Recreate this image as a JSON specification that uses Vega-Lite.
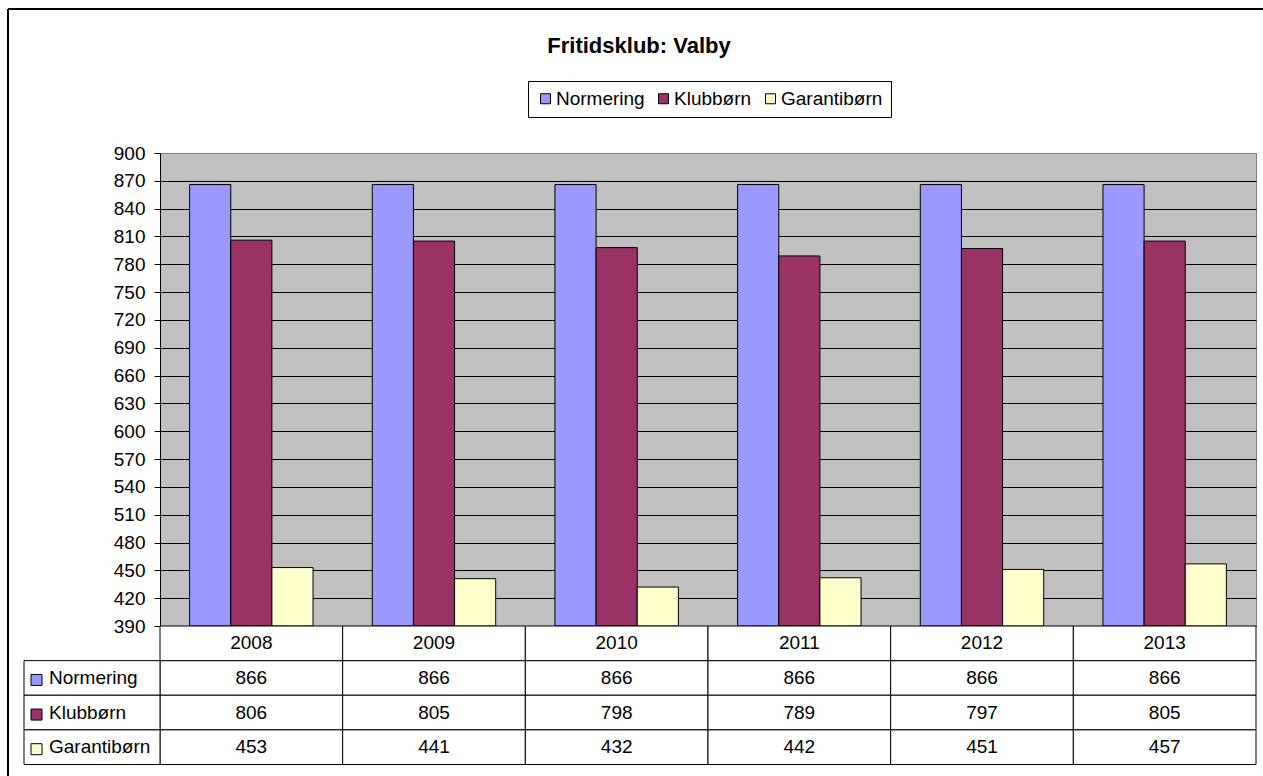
{
  "$schema": "https://vega.github.io/schema/vega-lite/v6.json",
  "width": 1096,
  "height": 473,
  "autosize": {"type": "none"},
  "padding": {"left": 160, "top": 153, "right": 7, "bottom": 150},
  "background": "white",
  "config": {
    "font": "Liberation Sans",
    "view": {"fill": "#C0C0C0", "stroke": "#808080", "strokeWidth": 1},
    "text": {"font": "Liberation Sans", "fontSize": 19, "color": "black"}
  },
  "title": {
    "text": "Fritidsklub: Valby",
    "font": "Liberation Sans",
    "fontSize": 22,
    "fontWeight": "bold",
    "color": "black",
    "anchor": "middle",
    "frame": "group",
    "dx": -69,
    "offset": -50
  },
  "data": {
    "values": [
      {"year": "2008", "series": "Normering", "value": 866},
      {"year": "2008", "series": "Klubbørn", "value": 806},
      {"year": "2008", "series": "Garantibørn", "value": 453},
      {"year": "2009", "series": "Normering", "value": 866},
      {"year": "2009", "series": "Klubbørn", "value": 805},
      {"year": "2009", "series": "Garantibørn", "value": 441},
      {"year": "2010", "series": "Normering", "value": 866},
      {"year": "2010", "series": "Klubbørn", "value": 798},
      {"year": "2010", "series": "Garantibørn", "value": 432},
      {"year": "2011", "series": "Normering", "value": 866},
      {"year": "2011", "series": "Klubbørn", "value": 789},
      {"year": "2011", "series": "Garantibørn", "value": 442},
      {"year": "2012", "series": "Normering", "value": 866},
      {"year": "2012", "series": "Klubbørn", "value": 797},
      {"year": "2012", "series": "Garantibørn", "value": 451},
      {"year": "2013", "series": "Normering", "value": 866},
      {"year": "2013", "series": "Klubbørn", "value": 805},
      {"year": "2013", "series": "Garantibørn", "value": 457}
    ]
  },
  "layer": [
    {
      "mark": {"type": "bar", "stroke": "black", "strokeWidth": 1},
      "encoding": {
        "x": {"field": "year", "type": "nominal", "scale": {"domain": ["2008", "2009", "2010", "2011", "2012", "2013"], "paddingInner": 0, "paddingOuter": 0}, "axis": null},
        "xOffset": {"field": "series", "type": "nominal", "scale": {"domain": ["Normering", "Klubbørn", "Garantibørn"], "paddingInner": 0, "paddingOuter": 0.72}},
        "y": {
          "field": "value",
          "type": "quantitative",
          "scale": {"domain": [390, 900], "zero": false, "nice": false},
          "axis": {
            "values": [390, 420, 450, 480, 510, 540, 570, 600, 630, 660, 690, 720, 750, 780, 810, 840, 870, 900],
            "title": null,
            "grid": true,
            "gridColor": {"condition": {"test": "datum.value === 900", "value": "#808080"}, "value": "black"},
            "gridWidth": 1,
            "domainColor": "black",
            "domainWidth": 1,
            "tickColor": "black",
            "tickSize": 6,
            "labelFont": "Liberation Sans",
            "labelFontSize": 19,
            "labelColor": "black",
            "labelPadding": 9,
            "labelOverlap": false,
            "labelFlush": false
          }
        },
        "y2": {"datum": 390},
        "color": {
          "field": "series",
          "type": "nominal",
          "scale": {"domain": ["Normering", "Klubbørn", "Garantibørn"], "range": ["#9999FF", "#993366", "#FFFFCC"]},
          "legend": {
            "orient": "none",
            "legendX": 368,
            "legendY": -72,
            "direction": "horizontal",
            "title": null,
            "symbolType": "square",
            "symbolSize": 100,
            "symbolStrokeColor": "black",
            "symbolStrokeWidth": 1,
            "labelFont": "Liberation Sans",
            "labelFontSize": 19,
            "labelColor": "black",
            "labelOffset": 1,
            "columnPadding": 9,
            "strokeColor": "black",
            "fillColor": "white",
            "padding": 8
          }
        }
      }
    },
    {
      "mark": {"type": "rule", "color": "black", "strokeWidth": 1.5, "xOffset": -243.3, "x2Offset": 110},
      "encoding": {
        "x": {"datum": "2008", "type": "nominal", "scale": {"type": "band", "domain": ["2008", "2009", "2010", "2011", "2012", "2013"], "paddingInner": 0, "paddingOuter": 0}, "axis": null},
        "x2": {"datum": "2013"},
        "y": {"datum": 1055.3, "type": "quantitative", "scale": {"domain": [390, 900], "zero": false, "nice": false}, "axis": null}
      }
    },
    {
      "mark": {"type": "rule", "color": "black", "strokeWidth": 1.5, "xOffset": -243.3},
      "encoding": {
        "x": {"datum": "2008", "type": "nominal", "scale": {"type": "band", "domain": ["2008", "2009", "2010", "2011", "2012", "2013"], "paddingInner": 0, "paddingOuter": 0}, "axis": null},
        "y": {"datum": 1055.3, "type": "quantitative", "scale": {"domain": [390, 900], "zero": false, "nice": false}, "axis": null},
        "y2": {"datum": 200}
      }
    },
    {
      "mark": {"type": "rect", "fill": "white", "stroke": "black", "strokeWidth": 1},
      "encoding": {
        "x": {"field": "year", "type": "nominal", "scale": {"type": "band", "domain": ["2008", "2009", "2010", "2011", "2012", "2013"], "paddingInner": 0, "paddingOuter": 0}, "axis": null},
        "y": {"field": "series", "type": "nominal", "scale": {"type": "band", "domain": ["hdr", "Normering", "Klubbørn", "Garantibørn"], "range": [473, 611.5], "paddingInner": 0, "paddingOuter": 0}, "axis": null}
      }
    },
    {
      "transform": [{"filter": "datum.series === 'Normering'"}],
      "mark": {"type": "rect", "fill": "white", "stroke": "black", "strokeWidth": 1},
      "encoding": {
        "x": {"field": "year", "type": "nominal", "scale": {"type": "band", "domain": ["2008", "2009", "2010", "2011", "2012", "2013"], "paddingInner": 0, "paddingOuter": 0}, "axis": null},
        "y": {"datum": "hdr", "type": "nominal", "scale": {"type": "band", "domain": ["hdr", "Normering", "Klubbørn", "Garantibørn"], "range": [473, 611.5], "paddingInner": 0, "paddingOuter": 0}, "axis": null}
      }
    },
    {
      "transform": [{"filter": "datum.series === 'Normering'"}],
      "mark": {"type": "text", "align": "center", "baseline": "middle", "fontSize": 19, "font": "Liberation Sans", "color": "black"},
      "encoding": {
        "x": {"field": "year", "type": "nominal", "scale": {"type": "band", "domain": ["2008", "2009", "2010", "2011", "2012", "2013"], "paddingInner": 0, "paddingOuter": 0}, "axis": null},
        "y": {"datum": "hdr", "type": "nominal", "scale": {"type": "band", "domain": ["hdr", "Normering", "Klubbørn", "Garantibørn"], "range": [473, 611.5], "paddingInner": 0, "paddingOuter": 0}, "axis": null},
        "text": {"field": "year"}
      }
    },
    {
      "mark": {"type": "text", "align": "center", "baseline": "middle", "fontSize": 19, "font": "Liberation Sans", "color": "black"},
      "encoding": {
        "x": {"field": "year", "type": "nominal", "scale": {"type": "band", "domain": ["2008", "2009", "2010", "2011", "2012", "2013"], "paddingInner": 0, "paddingOuter": 0}, "axis": null},
        "y": {"field": "series", "type": "nominal", "scale": {"type": "band", "domain": ["hdr", "Normering", "Klubbørn", "Garantibørn"], "range": [473, 611.5], "paddingInner": 0, "paddingOuter": 0}, "axis": null},
        "text": {"field": "value", "type": "quantitative"}
      }
    },
    {
      "transform": [{"filter": "datum.year === '2008'"}],
      "mark": {"type": "rect", "fill": "white", "stroke": "black", "strokeWidth": 1},
      "encoding": {
        "x": {"datum": "lbl", "type": "nominal", "scale": {"type": "band", "domain": ["lbl"], "range": [-136, 0], "paddingInner": 0, "paddingOuter": 0}, "axis": null},
        "y": {"field": "series", "type": "nominal", "scale": {"type": "band", "domain": ["hdr", "Normering", "Klubbørn", "Garantibørn"], "range": [473, 611.5], "paddingInner": 0, "paddingOuter": 0}, "axis": null}
      }
    },
    {
      "transform": [{"filter": "datum.year === '2008'"}],
      "mark": {"type": "point", "shape": "square", "filled": true, "size": 121, "stroke": "black", "strokeWidth": 1, "opacity": 1, "xOffset": -55.5, "yOffset": 2},
      "encoding": {
        "x": {"datum": "lbl", "type": "nominal", "scale": {"type": "band", "domain": ["lbl"], "range": [-136, 0], "paddingInner": 0, "paddingOuter": 0}, "axis": null},
        "y": {"field": "series", "type": "nominal", "scale": {"type": "band", "domain": ["hdr", "Normering", "Klubbørn", "Garantibørn"], "range": [473, 611.5], "paddingInner": 0, "paddingOuter": 0}, "axis": null},
        "fill": {"field": "series", "type": "nominal", "scale": {"domain": ["Normering", "Klubbørn", "Garantibørn"], "range": ["#9999FF", "#993366", "#FFFFCC"]}, "legend": null}
      }
    },
    {
      "transform": [{"filter": "datum.year === '2008'"}],
      "mark": {"type": "text", "align": "left", "baseline": "middle", "fontSize": 19, "font": "Liberation Sans", "color": "black", "xOffset": -43},
      "encoding": {
        "x": {"datum": "lbl", "type": "nominal", "scale": {"type": "band", "domain": ["lbl"], "range": [-136, 0], "paddingInner": 0, "paddingOuter": 0}, "axis": null},
        "y": {"field": "series", "type": "nominal", "scale": {"type": "band", "domain": ["hdr", "Normering", "Klubbørn", "Garantibørn"], "range": [473, 611.5], "paddingInner": 0, "paddingOuter": 0}, "axis": null},
        "text": {"field": "series"}
      }
    }
  ],
  "resolve": {"scale": {"x": "independent", "y": "independent"}}
}
